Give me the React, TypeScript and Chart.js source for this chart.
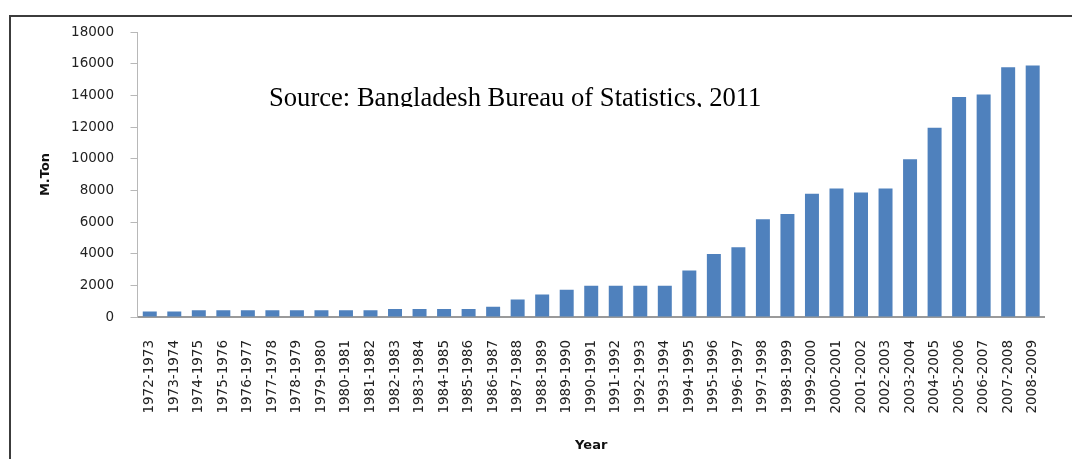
import React, { useEffect, useRef } from "react";
import { Chart, registerables } from "chart.js";

Chart.register(...registerables);

const categories: string[] = [
  "1972-1973", "1973-1974", "1974-1975", "1975-1976", "1976-1977", "1977-1978",
  "1978-1979", "1979-1980", "1980-1981", "1981-1982", "1982-1983", "1983-1984",
  "1984-1985", "1985-1986", "1986-1987", "1987-1988", "1988-1989", "1989-1990",
  "1990-1991", "1991-1992", "1992-1993", "1993-1994", "1994-1995", "1995-1996",
  "1996-1997", "1997-1998", "1998-1999", "1999-2000", "2000-2001", "2001-2002",
  "2002-2003", "2003-2004", "2004-2005", "2005-2006", "2006-2007", "2007-2008",
  "2008-2009",
];

const production: number[] = [
  350, 350, 420, 420, 420, 420, 420, 420, 420, 420, 505, 505, 505, 505, 640,
  1100, 1420, 1720, 1970, 1970, 1970, 1970, 2930, 3980, 4400, 6170, 6510, 7790,
  8120, 7870, 8120, 9960, 11960, 13900, 14060, 15770, 15890,
];

const yMin = 0;
const yMax = 18000;
const yStep = 2000;

const yTitle = "M.Ton";
const xTitle = "Year";
const sourceText = "Source: Bangladesh Bureau of Statistics, 2011";

export default function App() {
  const canvasRef = useRef<HTMLCanvasElement | null>(null);

  useEffect(() => {
    if (!canvasRef.current) return;
    const tickFont = { family: "'DejaVu Sans', sans-serif", size: 13.5 };
    const titleFont = { family: "'DejaVu Sans', sans-serif", size: 13, weight: "bold" as const };
    const chart = new Chart(canvasRef.current, {
      type: "bar",
      data: {
        labels: categories,
        datasets: [
          {
            label: "Production",
            data: production,
            backgroundColor: "#4f81bd",
            borderWidth: 0,
            categoryPercentage: 1,
            barPercentage: 0.57,
          },
        ],
      },
      options: {
        responsive: false,
        animation: false,
        layout: { padding: { top: 32, right: 8, bottom: 0, left: 0 } },
        plugins: {
          legend: { display: false },
          tooltip: { enabled: false },
          title: { display: false },
        },
        scales: {
          x: {
            grid: { display: false, drawTicks: false },
            border: { display: true, color: "#9a9a9a", width: 2 },
            ticks: {
              autoSkip: false,
              minRotation: 90,
              maxRotation: 90,
              padding: 23,
              color: "#222",
              font: tickFont,
            },
            title: {
              display: true,
              text: xTitle,
              color: "#111",
              font: titleFont,
              padding: { top: 0, bottom: 6 },
            },
            afterFit: (scale: any) => {
              scale.height = 142;
            },
          },
          y: {
            min: yMin,
            max: yMax,
            grid: {
              display: true,
              drawOnChartArea: false,
              drawTicks: true,
              tickLength: 7,
              color: "#b8b8b8",
            },
            border: { display: true, color: "#b8b8b8", width: 1 },
            ticks: {
              stepSize: yStep,
              padding: 16.5,
              color: "#222",
              font: tickFont,
              callback: (value: any) => String(value),
            },
            title: {
              display: true,
              text: yTitle,
              color: "#111",
              font: titleFont,
              padding: { top: 38, bottom: 0 },
            },
            afterFit: (scale: any) => {
              scale.width = 137.5;
            },
          },
        },
      },
    });
    return () => chart.destroy();
  }, []);

  return (
    <div style={{ position: "absolute", left: 0, top: 0, width: 1072, height: 459, overflow: "hidden", background: "#fff" }}>
      <div
        style={{
          position: "absolute",
          left: 9,
          top: 15,
          width: 1080,
          height: 460,
          borderTop: "2px solid #3c3c3c",
          borderLeft: "2px solid #3c3c3c",
        }}
      />
      <canvas
        ref={canvasRef}
        width={1072}
        height={459}
        style={{ position: "absolute", left: 0, top: 0, display: "block" }}
      />
      <div
        style={{
          position: "absolute",
          left: 269,
          top: 84,
          height: 23,
          overflow: "hidden",
          whiteSpace: "nowrap",
          fontFamily: "'Liberation Serif', 'Times New Roman', serif",
          fontSize: 26.6,
          lineHeight: "26px",
          color: "#000",
        }}
      >
        {sourceText}
      </div>
    </div>
  );
}
